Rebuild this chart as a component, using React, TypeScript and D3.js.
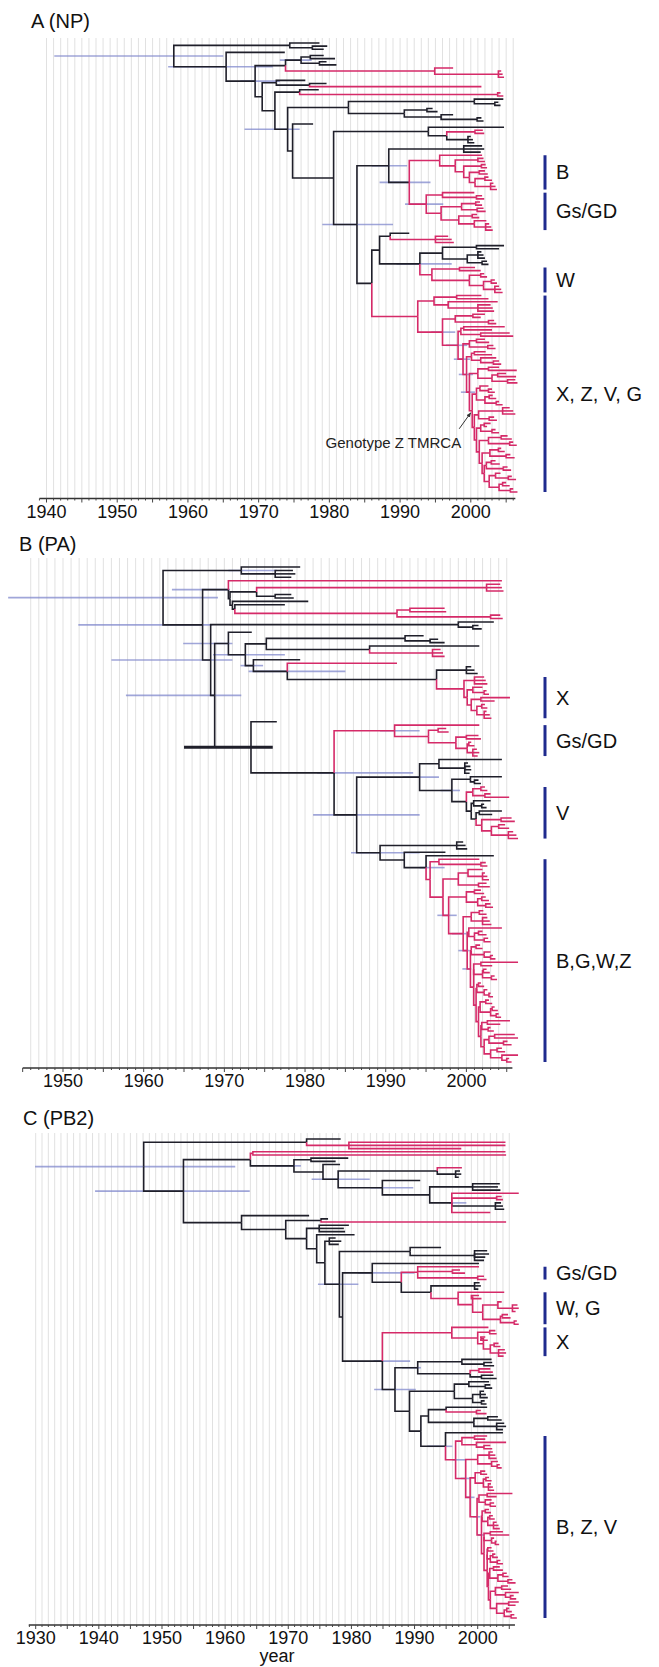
import React, { useMemo } from "react";
import * as d3 from "d3";

// ---------------- DATA ----------------
// Trees are written as nested clades: "(child,child)year". A leading "r" marks a pink (red) lineage,
// "k" a black one (colour is inherited otherwise). "[lo:hi]" is the 95% HPD of a node's date
// ("!" = drawn as a heavy black bar), "{label}" marks a bracketed genotype clade, "#" the Genotype Z TMRCA.

// ---- Panel A (NP)
const A_B = `r(2001.6,((2001.8,2002.0)2001.0,((2002.1,2002.3)2001.5,((2002.0,2002.4)2001.2,((2002.5,2003.0)2002.0,(2003.2,2003.5,2003.7)2002.8)2000.6)1999.8)1999.0)1997.8)1995.6{B}`;
const A_GSGD = `r((2000.5,(2001.6,2001.9)2000.8)1996.0,(((2001.3,2001.6)2000.7,(2001.8,2002.1)2000.9)1998.7,((2000.9,2001.2)2000.2,(2002.2,(2002.6,2002.9,2003.1)2002.1)2000.5)1998.3)1995.8)1993.7[1990.7:1996.1]{Gs/GD}`;
const A_W = `r((2000.6,2001.4)1998.4,((2001.9,2002.3)2001.4,((2003.4,2003.7)2002.9,(2004.0,2004.3,2004.5)2003.4)2001.8)1999.8)1994.5{W}`;
const A_XZVG = `r(
 ((2001.5,2002.5)1998.0,(2003.8,(2002.8,2003.1,2003.3)2001.0)1996.8)1994.8,
 (((2002.0,2001.4)2000.3,(2003.3,2003.6)2002.5)1997.8,
  (((2004.8,2003.0)1999.0,(2005.5,2006.0)2001.4)1998.6,
   (((2002.0,2002.6)2000.8,(2003.2,2003.5)2002.4)1999.8,
    (((2002.1,2003.0)2000.5,(2003.6,(2004.0,2004.3)2003.2)2001.4)2000.1,
     (((2004.0,2006.5)2002.5,((2005.0,2006.4)2003.8,(2006.3,2006.6)2005.2)2003.0)2001.0,
      (((2002.5,(2003.0,2003.4)2002.5)2001.3,((2003.1,2003.6)2002.6,(2004.0,2004.5)2003.6)2002.0)2000.8,
       (((2005.5,2006.0,2006.3)2004.5,(2003.3,2003.7)2002.6)2001.1,
        (((2002.8,2002.3)2001.9,(2003.5,2004.0)2003.0)2001.4,
         (((2005.2,2005.8)2004.3,(2006.0,2006.5)2005.5)2002.5,
          (((2004.3,2004.8)2003.9,(2005.6,2006.2)2005.0)2002.7,
           (((2003.5,2004.1)2002.9,(2005.2,2005.7)2004.6)2002.2,
            ((2004.2,(2005.8,2006.4)2005.3)2003.5,((2005.0,2005.5)2004.5,(2006.0,2006.6)2005.6)2004.0)2002.6
           )2001.9
          )2001.6
         )2001.2
        )2000.8
       )2000.5
      )2000.2#
     )1999.8[1998.6:2000.6]
    )1999.4[1998.3:2000.3]
   )1998.9[1997.6:1999.9]
  )1998.2[1996.5:1999.5]
 )1996.0[1994.4:1997.8]
)1992.5{X, Z, V, G}`;
const treeA = `(
 (1978.6,(1979.7,1979.2)1977.6)1974.4,
 (1973.7,
  ((((1979.2,1980.8)1977.3,(1979.6,1981.0)1978.6)1976.0[1973:1977.5],
    r(1997.5,(2004.3,2004.5,2004.7)2003.9)1994.9)1973.8,
   ((1976.6,(1979.6,r2001.5)1977.2)1972.5,
    ((1978.5,r(2004.2,2004.6)2003.8)1975.8,
     (((2004.6,(2003.9,2004.2)2003.4)2000.5,((1994.6,1995.3)1993.8,(1997.5,(2001.5,2001.8)2000.9)1995.8)1990.6)1982.7,
      (1977.7,
       ((2004.7,(r(2001.7,2001.9)2000.6,(2000.0,2000.3,2000.5)1999.6)1996.6)1994.0,
        (((2001.6,2001.9,2001.4)1999.0,(${A_B},${A_GSGD})1991.3[1987.1:1994.3])1988.4[1986:1991],
         (((1991.3,r(1996.8,1997.3,1997.6)1995.0)1988.6,
           (((2004.7,2004.0)2000.8,((2001.5,2001.8,2002.0)2001.0,(2002.3,2002.5)2001.6)1999.5)1996.0,${A_W})1992.8[1989.5:1997.3]
          )1987.1,
          ${A_XZVG}
         )1986.0
        )1983.9[1979:1989]
       )1980.6
      )1974.8
     )1974.1[1968:1975.8]
    )1972.3
   )1970.5
  )1969.5[1967.4:1973]
 )1965.4[1957.2:1972]
)1958.0[1941.1:1965]`;

// ---- Panel B (PA)
const B_X = `r((2002.2,2002.4,2002.6)2001.0,((2002.0,(2002.5,2002.8)2002.2)2000.8,((2005.4,2003.5)2001.8,((2002.3,2002.6)2001.9,(2002.5,2002.9,2003.1)2002.2)2001.3)2000.6)2000.1)1999.7{X}`;
const B_GSGD = `r(2001.6,((1997.5,1997.8)1996.5,((2001.5,2001.8)2000.0,((2000.6,2001.0)2000.3,(2001.3,2001.6,2001.4)2000.8)2000.1)1998.7)1995.3)1991.1[1989.3:1994.2]{Gs/GD}`;
const B_TOPV = `((2004.4,(2000.2,2000.5,2000.6,2000.4)1999.8)1996.6,
 ((2004.4,(2001.5,2001.8)2001.0)2000.5,
  (r((2002.3,2002.6)2001.8,(2003.0,2005.3)2002.3)2000.8,
   ((2003.0,(2002.2,2002.5)2001.9)2000.9,
    ((2004.4,2003.2)2001.6,r((2005.6,2006.0)2004.3,((2004.8,2005.3)2004.0,(2005.8,2006.2,2006.4)2005.2)2003.1)2001.9)2001.2
   )2000.6
  )2000.0{V}
 )1998.2[1996.8:1999.2]
)1994.2[1992.1:1996.6]`;
const B_BGWZ = `r(
 (2001.6,(2002.4,2002.6)2001.8)1996.6,
 (((2002.0,(2002.3,2002.6,2002.8)2002.0)2000.2,(2002.5,2002.9)2001.5)1999.0,
  (((2001.8,2002.2)2001.0,((2002.4,2002.8)2001.9,(2003.0,2003.3)2002.4)2001.4)2000.0,
   (((2002.1,2002.5)2001.6,(2002.6,2002.9,2003.1)2002.0)2000.6,
    ((2004.4,((2002.0,2002.5)2001.5,(2002.7,2003.0)2002.2)2001.0)2000.3,
     (((2001.7,2002.0)2001.2,(2003.0,(2003.3,2003.6)2003.0)2002.2)2000.6,
      (((2006.4,2003.2)2001.8,((2002.5,2002.9)2002.1,(2003.5,2003.8)2003.1)2002.0)2000.9,
       (((2001.8,2002.2)2001.5,(2002.6,(2003.0,2003.3)2002.8)2002.2)2001.3,
        (((2002.8,2003.2)2002.4,((2003.5,2003.9)2003.2,(2004.0,2004.3)2003.7)2003.0)2001.7,
         (((2005.4,2004.2)2002.6,(2003.0,2003.4)2002.7)2001.9,
          (((2006.0,2006.4)2003.5,(2005.1,2005.6)2004.6)2002.8,
           ((2004.4,2004.8)2003.8,(2006.4,(2005.3,2005.6)2005.0)2004.4)2003.0
          )2002.2
         )2001.8
        )2001.5
       )2001.2
      )2000.9
     )2000.5[1999.5:2000.6]
    )2000.1[1999:2000.4]
   )1999.6[1998.2:2000]
  )1997.8[1996.4:1998.8]
 )1997.1
)1995.5{B,G,W,Z}`;
const treeB = `(
 (1979.4,(1978.5,1978.8,1978.3)1976.3)1972.1[1970.5:1976.5],
 ((r2004.4,((r(2004.2,2004.4,2004.6)2002.5,(1978.3,1978.6)1976.3)1974.0,(1980.4,(1977.5,r((1997.3,1997.5)1993.0,(2004.2,2004.5)2003.0)1991.4)1971.3)1971.0)1970.7)1970.5[1963.5:1970.7],
  ((2003.4,(2001.5,2001.9)2000.8)1999.0,
   ((1973.4,(((1994.7,(1996.5,1997.3)1995.5)1992.4,(2001.6,r(1996.8,1997.1,1997.3)1995.8)1988.0)1975.2,
      (1979.4,(r1991.4,((2000.6,2001.0,2001.4)2000.0,${B_X})1996.3)1977.8[1973:1985])1973.6[1972:1974.8])1972.6[1968.6:1977.5])1970.5[1964.9:1971],
    (1976.5,
     (${B_GSGD},
      (${B_TOPV},
       ((1999.6,1999.9,2000.1)1998.8,(1997.4,(2003.4,${B_BGWZ})1995.0[1994.2:1997.3])1992.3)1989.3[1985.7:1994.2]
      )1986.4[1981:1994.2]
     )1983.6[1981.5:1993.4]
    )1973.3[1965:1976!]
   )1968.8[1957.8:1972.1]
  )1968.3[1956:1971]
 )1967.3[1951.9:1968.5]
)1962.4[1943.2:1969.2]`;

// ---- Panel C (PB2)
const C_GSGD = `r(2000.2,(1997.2,1998.0)1996.0,(2001.0,2001.4)2000.0)1990.5{Gs/GD}`;
const C_WG = `r(2004.2,((2000.2,2000.6)1999.0,((2003.8,(2006.3,2006.5,2006.0)2005.5)2003.2,((2004.8,2005.2)2003.9,(2006.2,2006.5)2005.8)2003.6)2000.8)1999.2)1996.9{W, G}`;
const C_X = `r(2001.7,((2002.8,2003.0)2001.9,((2001.2,2001.6)2000.5,((2003.3,2003.6)2002.6,(2004.3,2004.5,2004.1)2003.3)2002.0)2000.9)2000.0)1995.9{X}`;
const C_BZV = `r(
 ((2001.5,2001.2)1999.5,(2004.5,(2002.0,2002.3)2001.0)1999.8)1997.5,
 (((2002.4,2002.8,2003.0)2001.8,(2003.2,(2003.5,2003.8)2003.1)2002.2)2000.0,
  (((2001.2,2001.5)2000.5,((2001.8,2002.2)2001.3,(2002.1,2002.4,2002.6)2001.7)2000.9)1999.6,
   (((2005.5,2003.0)2001.5,(2002.2,(2002.6,2002.9)2002.0)2001.2)2000.2,
    (((2001.8,2002.1)2001.2,((2002.4,2002.7)2001.9,(2003.0,2003.3,2003.5)2002.5)2001.6)2000.7,
     (((2004.0,2005.0)2002.0,(2002.6,(2003.0,2003.4)2002.8)2002.2)2001.0,
      (((2002.2,2002.5)2001.6,((2002.8,2003.2)2002.4,(2003.6,2004.0)2003.1)2002.0)2001.5,
       (((2003.5,2004.0)2002.5,((2004.6,2004.9)2004.0,(2005.5,2006.0)2004.8)2003.2)2001.9,
        (((2004.8,2005.3)2003.8,(2006.5,(2005.7,2006.1)2005.2)2004.4)2002.8,
         ((2006.5,2006.0)2004.9,((2005.0,2005.4)2004.6,(2005.8,2006.2)2005.3)2004.2)2003.0
        )2002.0
       )2001.7
      )2001.5
     )2001.0
    )2000.6[2000:2001]
   )1999.9[1999.2:2000.4]
  )1998.8[1998:1999.5]
 )1998.1[1997.3:1998.8]
)1996.5[1996:1998]{B, Z, V}`;
const C_BLK = `(((2002.2,(2002.3,2002.6)2001.0)1997.5,(r(2002.0,2002.4)2000.2,(2002.5,2003.0)2000.6)1998.8)1990.5[1988:1991],
 (((2001.8,(2002.0,2002.3)2001.2)1998.6,((2001.0,2001.3,2001.6)2000.4,(2001.1,2001.4)2000.6)1999.2)1996.3,
  (((2001.5,r(2000.5,2001.4)1999.8)1995.0,((2003.2,2003.8)2001.6,(2004.2,2004.5,2004.0)2003.0)1999.4)1992.2,
   (2004.0,${C_BZV})1994.9[1992:1996]
  )1991.0
 )1989.2
)1986.9[1983.6:1990.2]`;
const treeC = `(
 (1978.3,r(2004.4,2004.4,1997.4)1979.6)1972.9,
 ((r(2004.4,2004.5)1964.4,
   ((1979.5,1977.5)1973.6,(1978.2,((r1997.5,(1997.2,1997.4,1997.0)1996.5)1993.6,(1990.9,((2003.5,2003.2,2003.6)1999.2,(r2006.5,r(2003.8,2004.0)2003.0,(2003.7,2004.0,2004.2)2002.8,r2002.0)1995.9[1995.5:1998.2])1992.4)1984.9[1983:1989.8])1977.9[1973.7:1982.9])1975.5)1970.9[1968:1972]
  )1964.0,
  (1973.3,
   ((1976.3,r2004.5)1975.2,
    ((1979.6,1978.8,1979.0)1974.9,
     (1980.5,
      ((1977.5,1978.4,1978.0)1976.5,
       ((1994.2,(2001.5,2001.8,2001.2,2001.0)1999.5)1989.3,
        ((2000.2,(${C_GSGD},((2000.3,2000.5,2000.1)1999.5,${C_WG})1992.6)1987.9)1983.3[1981:1990],
         (${C_X},${C_BLK})1984.9[1983.5:1989.3]
        )1978.6
       )1978.1[1974.7:1981.1]
      )1975.8
     )1974.5
    )1972.9
   )1969.6
  )1962.6
 )1953.4[1939.4:1963.9]
)1947.1[1929.9:1961.6]`;

const ticksA = [1940, 1950, 1960, 1970, 1980, 1990, 2000];
const ticksB = [1950, 1960, 1970, 1980, 1990, 2000];
const ticksC = [1930, 1940, 1950, 1960, 1970, 1980, 1990, 2000];
const titles = ["A (NP)", "B (PA)", "C (PB2)"];
const tmrcaLabel = "Genotype Z TMRCA";
const xAxisTitle = "year";

// ---------------- LAYOUT / STYLE ----------------
const FONT = "'Liberation Sans', Arial, Helvetica, sans-serif";
const BLACK = "#1f1f2a";
const PINK = "#d52a68";
const HPD = "#8088cc";
const NAVY = "#1f2a8e";
const GRID = "#dedede";

const panels = [
  { title: titles[0], titleX: 31, titleY: 28, tree: treeA, leafTop: 43, leafBottom: 492, gridTop: 38, axisY: 498.5,
    dom: [1940, 2000], rng: [46.5, 470.8], axisFrom: 1939, axisTo: 2006.3, gridFrom: 1940, gridTo: 2006, ticks: ticksA },
  { title: titles[1], titleX: 19, titleY: 551, tree: treeB, leafTop: 567, leafBottom: 1062, gridTop: 558, axisY: 1068,
    dom: [1950, 2000], rng: [63, 466.4], axisFrom: 1945, axisTo: 2005.7, gridFrom: 1946, gridTo: 2005, ticks: ticksB },
  { title: titles[2], titleX: 23, titleY: 1125, tree: treeC, leafTop: 1139, leafBottom: 1618, gridTop: 1133, axisY: 1625,
    dom: [1930, 2000], rng: [35.7, 477.7], axisFrom: 1928.9, axisTo: 2005.9, gridFrom: 1930, gridTo: 2005, ticks: ticksC },
];

function parseTree(s: string) {
  let i = 0;
  const ws = () => { while (i < s.length && /\s/.test(s[i])) i++; };
  function node(): any {
    ws();
    const n: any = { children: [] };
    if (s[i] === "r" || s[i] === "k") { n.color = s[i]; i++; ws(); }
    if (s[i] === "(") {
      i++;
      n.children.push(node()); ws();
      while (s[i] === ",") { i++; n.children.push(node()); ws(); }
      if (s[i] === ")") { i++; ws(); }
    }
    const m = /^\d+(\.\d+)?/.exec(s.slice(i));
    n.year = m ? +m[0] : 2000;
    if (m) i += m[0].length;
    ws();
    if (s[i] === "[") {
      const j = s.indexOf("]", i);
      let body = s.slice(i + 1, j);
      n.thick = body.includes("!");
      body = body.replace("!", "");
      const [lo, hi] = body.split(":").map(Number);
      n.hpd = [lo, hi];
      i = j + 1; ws();
    }
    if (s[i] === "{") { const j = s.indexOf("}", i); n.tag = s.slice(i + 1, j); i = j + 1; ws(); }
    if (s[i] === "#") { n.mark = true; i++; ws(); }
    return n;
  }
  return node();
}

function buildPanel(p: any) {
  const x = d3.scaleLinear().domain(p.dom).range(p.rng);
  const root: any = d3.hierarchy(parseTree(p.tree), (d: any) => (d.children && d.children.length ? d.children : null));
  const leaves = root.leaves();
  const yLeaf = d3.scaleLinear().domain([0, leaves.length - 1]).range([p.leafTop, p.leafBottom]);
  leaves.forEach((l: any, i: number) => { l.y = yLeaf(i); });
  root.eachAfter((n: any) => { if (n.children) n.y = (n.children[0].y + n.children[n.children.length - 1].y) / 2; });
  root.eachBefore((n: any) => { n.color = n.data.color || (n.parent ? n.parent.color : "k"); });
  const nodes = root.descendants();
  const branches = nodes.filter((n: any) => n.parent).map((n: any) => ({
    d: `M${x(n.parent.data.year)},${n.parent.y}V${n.y}H${x(n.data.year)}`,
    red: n.color === "r",
  }));
  branches.sort((a: any, b: any) => (a.red === b.red ? 0 : a.red ? 1 : -1));
  const hpds = nodes.filter((n: any) => n.data.hpd).map((n: any) => ({
    x1: x(n.data.hpd[0]), x2: x(n.data.hpd[1]), y: n.y, thick: n.data.thick,
  }));
  const brackets = nodes.filter((n: any) => n.data.tag).map((n: any) => {
    const lv = n.leaves();
    return { label: n.data.tag, y1: lv[0].y, y2: lv[lv.length - 1].y };
  });
  const marked = nodes.find((n: any) => n.data.mark);
  const mark = marked ? { x: x(marked.data.year), y: marked.y } : null;
  const grid = d3.range(p.gridFrom, p.gridTo + 1);
  const minor = d3.range(Math.ceil(p.axisFrom), Math.floor(p.axisTo) + 1);
  return { x, branches, hpds, brackets, mark, grid, minor };
}

function Panel({ p }: { p: any }) {
  const g = useMemo(() => buildPanel(p), [p]);
  const { x } = g;
  return (
    <g>
      <text x={p.titleX} y={p.titleY} fontSize={20} fontFamily={FONT} fill="#111">{p.title}</text>
      {g.grid.map((yr: number) => (
        <line key={"g" + yr} x1={x(yr)} x2={x(yr)} y1={p.gridTop} y2={p.axisY} stroke={GRID} strokeWidth={0.9} />
      ))}
      {g.hpds.filter((h: any) => !h.thick).map((h: any, i: number) => (
        <line key={"h" + i} x1={h.x1} x2={h.x2} y1={h.y} y2={h.y} stroke={HPD} strokeOpacity={0.75} strokeWidth={1.6} />
      ))}
      {g.branches.map((b: any, i: number) => (
        <path key={"b" + i} d={b.d} fill="none" stroke={b.red ? PINK : BLACK} strokeWidth={1.6} strokeLinejoin="miter" />
      ))}
      {g.hpds.filter((h: any) => h.thick).map((h: any, i: number) => (
        <line key={"t" + i} x1={h.x1} x2={h.x2} y1={h.y} y2={h.y} stroke={BLACK} strokeWidth={3} />
      ))}
      <line x1={x(p.axisFrom)} x2={x(p.axisTo)} y1={p.axisY} y2={p.axisY} stroke="#333" strokeWidth={1.6} />
      {g.minor.map((yr: number) => (
        <line key={"m" + yr} x1={x(yr)} x2={x(yr)} y1={p.axisY} y2={p.axisY + (yr % 5 === 0 ? 4 : 2)} stroke="#444" strokeWidth={1} />
      ))}
      {p.ticks.map((t: number) => (
        <text key={"l" + t} x={x(t)} y={p.axisY + 19} fontSize={18} fontFamily={FONT} textAnchor="middle" fill="#111">{t}</text>
      ))}
      {g.brackets.map((b: any, i: number) => (
        <g key={"k" + i}>
          <line x1={545} x2={545} y1={b.y1} y2={b.y2} stroke={NAVY} strokeWidth={3} />
          <text x={556} y={(b.y1 + b.y2) / 2} dy="0.35em" fontSize={20} fontFamily={FONT} fill="#111">{b.label}</text>
        </g>
      ))}
      {g.mark && (
        <g>
          <line x1={g.mark.x - 13} y1={g.mark.y + 18} x2={g.mark.x - 1.5} y2={g.mark.y + 2} stroke="#333" strokeWidth={1} markerEnd="url(#arrow)" />
          <text x={g.mark.x - 11} y={g.mark.y + 37} fontSize={15} fontFamily={FONT} textAnchor="end" fill="#222">{tmrcaLabel}</text>
        </g>
      )}
    </g>
  );
}

export default function App() {
  return (
    <svg width={659} height={1667} viewBox="0 0 659 1667" style={{ position: "absolute", left: 0, top: 0, background: "#fff" }}>
      <defs>
        <marker id="arrow" viewBox="0 0 10 10" refX="9" refY="5" markerWidth="5" markerHeight="5" orient="auto">
          <path d="M0,1L10,5L0,9Z" fill="#333" />
        </marker>
      </defs>
      <rect x={0} y={0} width={659} height={1667} fill="#fff" />
      {panels.map((p, i) => <Panel key={i} p={p} />)}
      <text x={277} y={1662} fontSize={18} fontFamily={FONT} textAnchor="middle" fill="#111">{xAxisTitle}</text>
    </svg>
  );
}
